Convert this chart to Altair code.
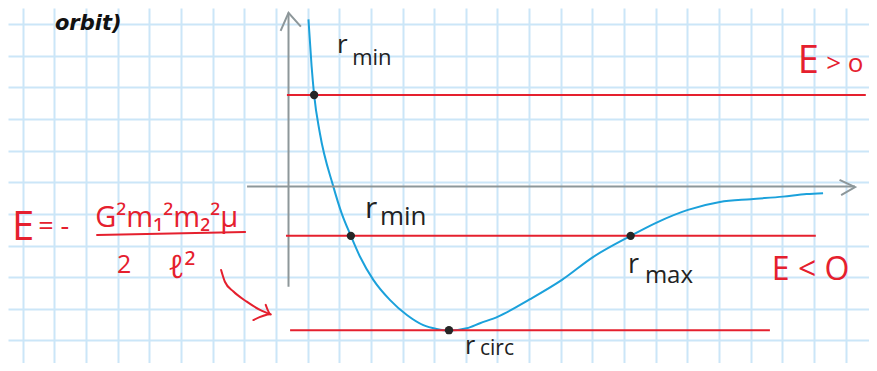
import altair as alt
import pandas as pd
import numpy as np

# ---- data (sketch units: 1 unit = one grid square, origin at the axes crossing) ----
curve_r = [0.63, 0.73, 0.81, 0.99, 1.41, 1.68, 1.97, 2.26, 2.68, 3.21, 3.74, 4.26, 4.68, 5.07,
           5.63, 6.05, 6.62, 7.63, 8.64, 9.62, 10.81, 11.63, 12.62, 13.63, 14.61, 15.62, 16.37, 16.89]
curve_v = [5.28, 3.79, 2.89, 1.69, 0.02, -0.85, -1.56, -2.22, -2.95, -3.59, -4.06, -4.38, -4.50, -4.55,
           -4.48, -4.32, -4.11, -3.56, -2.95, -2.23, -1.56, -1.14, -0.74, -0.49, -0.40, -0.32, -0.24, -0.21]

level_names = ["E>0", "E<0", "E circ"]
level_e = [2.89, -1.56, -4.54]
level_from = [-0.05, -0.08, 0.05]
level_to = [18.24, 16.66, 15.21]

turn_names = ["r_min (E>0)", "r_min (E<0)", "r_max", "r_circ"]
turn_r = [0.81, 1.97, 10.81, 5.07]
turn_v = [2.89, -1.56, -1.56, -4.54]

# hand-drawn axes (segment, r, V)
axis_seg = ["v", "v", "va", "va", "va", "h", "h", "ha", "ha", "ha"]
axis_r = [0.0, 0.0, -0.25, 0.0, 0.39, -1.31, 17.90, 17.41, 17.90, 17.46]
axis_v = [-3.17, 5.49, 4.92, 5.49, 5.05, 0.0, 0.0, 0.21, -0.02, -0.27]

# red hand-drawn arrow and fraction bar (segment, r, V)
red_seg = ["arc"] * 6 + ["head"] * 3 + ["bar"] * 2
red_r = [-2.13, -2.01, -1.74, -1.32, -0.90, -0.56, -0.72, -0.56, -1.11, -6.05, -1.37]
red_v = [-2.64, -3.01, -3.32, -3.64, -3.90, -4.04, -3.74, -4.04, -4.22, -1.53, -1.44]

# ---- layout ----
W, H = 861, 355
XDOM = [-8.863, 18.341]
YDOM = [-5.577, 5.640]
grid_x = [float(round(v, 3)) for v in np.arange(-8.398, 18.341, 1.0)]
grid_y = [float(round(v, 3)) for v in np.arange(5.134, -5.577, -1.0)]

BLUE = "#1ba1db"
RED = "#e5202e"
GRAY = "#8d979a"
GRID = "#cbe6f8"
INK = "#222222"

xs = alt.Scale(domain=XDOM, nice=False, zero=False)
ys = alt.Scale(domain=YDOM, nice=False, zero=False)
gx = alt.Axis(values=grid_x, tickCount=200, grid=True, gridColor=GRID, gridWidth=2, labels=False,
              ticks=False, domain=False, title=None)
gy = alt.Axis(values=grid_y, tickCount=200, grid=True, gridColor=GRID, gridWidth=2, labels=False,
              ticks=False, domain=False, title=None)

curve_df = pd.DataFrame({"r": curve_r, "V": curve_v, "i": range(len(curve_r))})
curve = alt.Chart(curve_df).mark_line(color=BLUE, strokeWidth=2, interpolate="monotone").encode(
    x=alt.X("r:Q", scale=xs, axis=gx),
    y=alt.Y("V:Q", scale=ys, axis=gy),
    order="i:Q",
)

axes_df = pd.DataFrame({"seg": axis_seg, "r": axis_r, "V": axis_v, "i": range(len(axis_r))})
axes = alt.Chart(axes_df).mark_line(color=GRAY, strokeWidth=2).encode(
    x=alt.X("r:Q", scale=xs, axis=gx), y=alt.Y("V:Q", scale=ys, axis=gy),
    detail="seg:N", order="i:Q"
)

lev_df = pd.DataFrame({"name": level_names, "E": level_e, "r0": level_from, "r1": level_to})
levels = alt.Chart(lev_df).mark_rule(color=RED, strokeWidth=2).encode(
    x=alt.X("r0:Q", scale=xs, axis=gx), x2="r1:Q", y=alt.Y("E:Q", scale=ys, axis=gy)
)

red_df = pd.DataFrame({"seg": red_seg, "r": red_r, "V": red_v, "i": range(len(red_r))})
redlines = alt.Chart(red_df).mark_line(color=RED, strokeWidth=2, interpolate="monotone",
                                       strokeCap="round").encode(
    x=alt.X("r:Q", scale=xs, axis=gx), y=alt.Y("V:Q", scale=ys, axis=gy),
    detail="seg:N", order="i:Q"
)

dots_df = pd.DataFrame({"name": turn_names, "r": turn_r, "V": turn_v})
dots = alt.Chart(dots_df).mark_circle(color="#262626", size=70, opacity=1).encode(
    x=alt.X("r:Q", scale=xs, axis=gx), y=alt.Y("V:Q", scale=ys, axis=gy)
)


def label(text, r, v, size, color=INK, weight=400, style="normal", font="Open Sans"):
    df = pd.DataFrame({"t": [text], "r": [r], "V": [v]})
    return alt.Chart(df).mark_text(
        align="left", baseline="alphabetic", fontSize=size, color=color,
        fontWeight=weight, fontStyle=style, font=font,
    ).encode(x=alt.X("r:Q", scale=xs, axis=gx), y=alt.Y("V:Q", scale=ys, axis=gy), text="t:N")


texts = [
    label("orbit)", -7.38, 4.94, 21, color="#111111", weight="bold", style="italic",
          font="DejaVu Sans"),
    label("r", 1.53, 4.22, 26),
    label("min", 2.01, 3.84, 22),
    label("r", 2.42, -0.99, 30),
    label("min", 2.89, -1.22, 26),
    label("r", 10.73, -2.73, 27),
    label("max", 11.26, -3.05, 24),
    label("r", 5.58, -5.29, 25),
    label("circ", 6.05, -5.32, 21),
    label("E", 16.09, 3.58, 38, color=RED),
    label("> o", 16.99, 3.63, 26, color=RED),
    label("E < O", 15.27, -2.95, 32, color=RED),
    label("E", -8.74, -1.69, 40, color=RED),
    label("= -", -7.91, -1.52, 27, color=RED),
    label("G²m₁²m₂²μ", -6.11, -1.28, 29, color=RED),
    label("2", -5.42, -2.73, 25, color=RED),
    label("ℓ²", -3.81, -2.89, 32, color=RED),
]

chart = alt.layer(curve, axes, levels, redlines, dots, *texts).properties(
    width=W, height=H, padding=0, autosize="none", background="white"
).configure_view(strokeWidth=0)

chart.save("out.html", embed_options={"renderer": "svg", "actions": False})
